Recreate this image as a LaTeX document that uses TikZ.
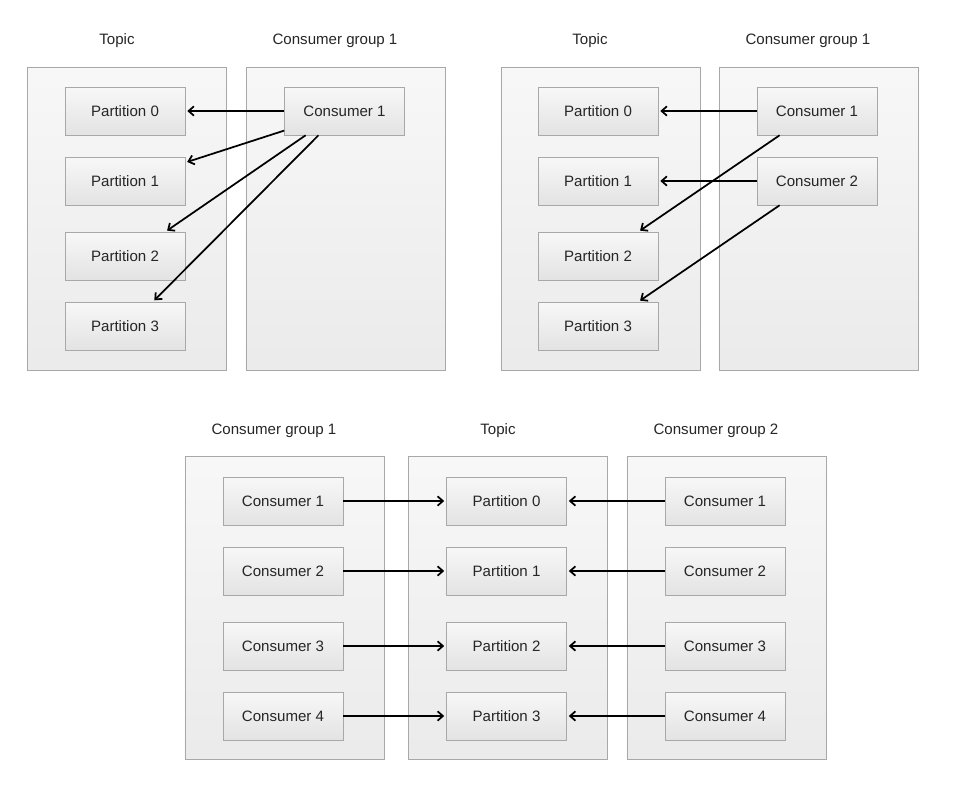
\documentclass[tikz,border=0pt]{standalone}
\usepackage{fontspec}
\setmainfont{Liberation Sans}
\usepackage{tikz}
\usetikzlibrary{arrows.meta}

\definecolor{boxline}{HTML}{A8A8A8}
\definecolor{textgray}{HTML}{262626}

\begin{document}
\begin{tikzpicture}[x=0.75pt, y=-0.75pt, font=\fontsize{11.3}{13}\selectfont, text=textgray,
    group/.style={draw=boxline, top color=white!97!black, bottom color=white!92!black,
      minimum width=149.5pt, minimum height=227pt, inner sep=0pt},
    item/.style={draw=boxline, top color=white!97!black, bottom color=white!89!black,
      minimum width=90pt, minimum height=36pt, inner sep=0pt, text depth=0pt},
    title/.style={inner sep=0pt},
    link/.style={-{Straight Barb[length=4pt, width=7pt]}, line width=1.3pt, shorten >=1.5pt}]
    \useasboundingbox (0,0) rectangle (958,796);
    % first picture: one consumer
    \node (topa) [group] at (127,218.5) {};
    \node (cga) [group] at (345.5,218.5) {};
    \node (topatitle) [title] at (117,41) {Topic};
    \node (cgatitle) [title] at (335,41) {Consumer group 1};
    \node (pa0) [item] at (125,111) {Partition 0};
    \node (pa1) [item] at (125,181) {Partition 1};
    \node (pa2) [item] at (125,256) {Partition 2};
    \node (pa3) [item] at (125,326) {Partition 3};
    \node (ca1) [item] at (344.5,111) {Consumer 1};
    % second picture: two consumers
    \node (topb) [group] at (600.5,218.5) {};
    \node (cgb) [group] at (818.5,218.5) {};
    \node (topbtitle) [title] at (590,41) {Topic};
    \node (cgbtitle) [title] at (808,41) {Consumer group 1};
    \node (pb0) [item] at (598,111) {Partition 0};
    \node (pb1) [item] at (598,181) {Partition 1};
    \node (pb2) [item] at (598,256) {Partition 2};
    \node (pb3) [item] at (598,326) {Partition 3};
    \node (cb1) [item] at (817,111) {Consumer 1};
    \node (cb2) [item] at (817,181) {Consumer 2};
    % third picture: two groups
    \node (cgc1) [group] at (284.5,608) {};
    \node (topc) [group] at (508,608) {};
    \node (cgc2) [group] at (726.5,608) {};
    \node (cgc1title) [title] at (274,431) {Consumer group 1};
    \node (topctitle) [title] at (498,431) {Topic};
    \node (cgc2title) [title] at (716,431) {Consumer group 2};
    \foreach \i/\y in {0/501, 1/571, 2/646, 3/716} {
      \pgfmathtruncatemacro{\n}{\i+1}
      \node (lc\i) [item] at (283,\y) {Consumer \n};
      \node (pc\i) [item] at (506.5,\y) {Partition \i};
      \node (rc\i) [item] at (725,\y) {Consumer \n};
      \draw[link] (lc\i) -- (pc\i);
      \draw[link] (rc\i) -- (pc\i);
    }
    \path[link]
    (ca1.west) edge (pa0.east)
    (ca1.198) edge (pa1.17)
    (ca1.212) edge (pa2.31)
    (ca1.223) edge (pa3.41)
    (cb1.west) edge (pb0.east)
    (cb2.west) edge (pb1.east)
    (cb1.213) edge (pb2.31)
    (cb2.213) edge (pb3.31)
    ;
\end{tikzpicture}
\end{document}
